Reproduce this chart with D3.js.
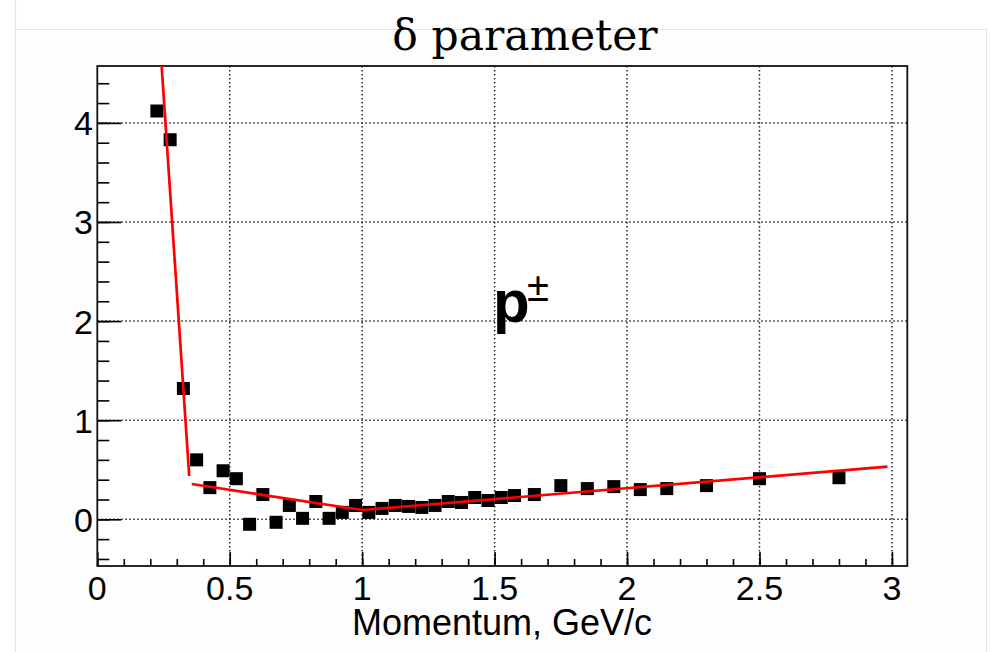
<!DOCTYPE html>
<html>
<head>
<meta charset="utf-8">
<script src="https://cdn.jsdelivr.net/npm/d3@7"></script>
<style>
  html, body { margin: 0; padding: 0; background: #ffffff; }
  svg { display: block; }
</style>
</head>
<body>
<svg id="chart" width="991" height="652"></svg>
<script>
// Proton delta parameter versus momentum
const momentum = [0.225, 0.275, 0.325, 0.375, 0.425, 0.475, 0.525, 0.575, 0.625, 0.675,
                  0.725, 0.775, 0.825, 0.875, 0.925, 0.975, 1.025, 1.075, 1.125, 1.175,
                  1.225, 1.275, 1.325, 1.375, 1.425, 1.475, 1.525, 1.575, 1.65, 1.75,
                  1.85, 1.95, 2.05, 2.15, 2.3, 2.5, 2.8];
const delta = [4.12, 3.83, 1.32, 0.60, 0.32, 0.49, 0.41, -0.05, 0.25, -0.03,
               0.14, 0.01, 0.18, 0.01, 0.07, 0.14, 0.07, 0.11, 0.14, 0.13,
               0.12, 0.14, 0.18, 0.17, 0.22, 0.19, 0.22, 0.24, 0.25, 0.34,
               0.31, 0.33, 0.30, 0.31, 0.34, 0.41, 0.42];

// Piecewise linear fits: low momentum, intermediate and high momentum
const fitLowX = [0.20, 0.347];
const fitLowY = [6.28, 0.437];
const fitMidX = [0.3565, 1.0];
const fitMidY = [0.356, 0.094];
const fitHighX = [1.0, 2.983];
const fitHighY = [0.094, 0.531];

const xTickLabels = ["0", "0.5", "1", "1.5", "2", "2.5", "3"];
const yTickLabels = ["0", "1", "2", "3", "4"];

const titleText = "δ parameter";
const xTitle = "Momentum, GeV/c";

const svg = d3.select("#chart");
const W = 991, H = 652;
const frame = { left: 97.3, top: 66, right: 907.3, bottom: 566 };

const x = d3.scaleLinear().domain([0, 3.058]).range([frame.left, frame.right]);
const y = d3.scaleLinear().domain([-0.471, 4.574]).range([frame.bottom, frame.top]);

// Canvas pad border
svg.append("rect")
  .attr("x", 15.5).attr("y", 29.5)
  .attr("width", 971).attr("height", H)
  .attr("fill", "#fdfdfd").attr("stroke", "none");
svg.append("line").attr("x1", 15.5).attr("x2", 15.5).attr("y1", 0).attr("y2", H)
  .attr("stroke", "#e2e2e2").attr("stroke-width", 1.2);
svg.append("line").attr("x1", 15.5).attr("x2", 986.5).attr("y1", 29.5).attr("y2", 29.5)
  .attr("stroke", "#e2e2e2").attr("stroke-width", 1.2);
svg.append("line").attr("x1", 986.5).attr("x2", 986.5).attr("y1", 29.5).attr("y2", H)
  .attr("stroke", "#e2e2e2").attr("stroke-width", 1.2);

// Plot area
svg.append("rect")
  .attr("x", frame.left).attr("y", frame.top)
  .attr("width", frame.right - frame.left).attr("height", frame.bottom - frame.top)
  .attr("fill", "#ffffff");

svg.append("defs").append("clipPath").attr("id", "plotClip")
  .append("rect")
  .attr("x", frame.left).attr("y", frame.top)
  .attr("width", frame.right - frame.left).attr("height", frame.bottom - frame.top);

// Dotted grid at major ticks
const xMajor = xTickLabels.map(Number);
const yMajor = yTickLabels.map(Number);
const grid = svg.append("g").attr("stroke", "#222").attr("stroke-width", 1.5)
  .attr("stroke-dasharray", "1.5,2.5");
grid.selectAll("line.gx").data(xMajor.filter(v => v > 0)).join("line")
  .attr("class", "gx")
  .attr("x1", d => x(d)).attr("x2", d => x(d))
  .attr("y1", frame.top).attr("y2", frame.bottom);
grid.selectAll("line.gy").data(yMajor).join("line")
  .attr("class", "gy")
  .attr("x1", frame.left).attr("x2", frame.right)
  .attr("y1", d => y(d)).attr("y2", d => y(d));

// Axes with inward ticks
const xMinorTicks = d3.range(0, 31).map(i => i / 10);
const yMinorTicks = d3.range(-2, 23).map(i => i / 5);

const xAxisMinor = d3.axisTop(x).tickValues(xMinorTicks).tickSize(7).tickFormat("");
const xAxisMajor = d3.axisTop(x).tickValues(xMajor).tickSize(14).tickFormat("");
const yAxisMinor = d3.axisRight(y).tickValues(yMinorTicks).tickSize(12).tickFormat("");
const yAxisMajor = d3.axisRight(y).tickValues(yMajor).tickSize(24).tickFormat("");

function styleAxis(g) {
  g.select(".domain").remove();
  g.selectAll(".tick line").attr("stroke", "#000").attr("stroke-width", 1.6);
}
svg.append("g").attr("transform", `translate(0,${frame.bottom})`).call(xAxisMinor).call(styleAxis);
svg.append("g").attr("transform", `translate(0,${frame.bottom})`).call(xAxisMajor).call(styleAxis);
svg.append("g").attr("transform", `translate(${frame.left},0)`).call(yAxisMinor).call(styleAxis);
svg.append("g").attr("transform", `translate(${frame.left},0)`).call(yAxisMajor).call(styleAxis);

// Frame
svg.append("rect")
  .attr("x", frame.left).attr("y", frame.top)
  .attr("width", frame.right - frame.left).attr("height", frame.bottom - frame.top)
  .attr("fill", "none").attr("stroke", "#111").attr("stroke-width", 1.8);

// Tick labels
const sans = "'Liberation Sans', Arial, Helvetica, sans-serif";
svg.append("g").selectAll("text").data(xTickLabels).join("text")
  .attr("x", d => x(+d)).attr("y", 600)
  .attr("text-anchor", "middle")
  .attr("font-family", sans).attr("font-size", 34).attr("fill", "#000")
  .text(d => d);
svg.append("g").selectAll("text").data(yTickLabels).join("text")
  .attr("x", 93).attr("y", d => y(+d) + 12.5)
  .attr("text-anchor", "end")
  .attr("font-family", sans).attr("font-size", 34).attr("fill", "#000")
  .text(d => d);

// Axis title
svg.append("text")
  .attr("x", 652).attr("y", 635)
  .attr("text-anchor", "end")
  .attr("font-family", sans).attr("font-size", 36).attr("fill", "#000")
  .text(xTitle);

// Plot title
svg.append("text")
  .attr("x", 525).attr("y", 50)
  .attr("text-anchor", "middle")
  .attr("font-family", "'DejaVu Serif', serif").attr("font-size", 42.5).attr("fill", "#000")
  .text(titleText);

// Particle label
svg.append("text")
  .attr("x", 493).attr("y", 322)
  .attr("font-family", sans).attr("font-weight", "bold").attr("font-size", 60).attr("fill", "#000")
  .text("p");
svg.append("text")
  .attr("x", 527).attr("y", 301)
  .attr("font-family", sans).attr("font-size", 40).attr("fill", "#000")
  .text("±");

// Data markers
const points = momentum.map((m, i) => ({ m, d: delta[i] }));
const size = 13;
svg.append("g").attr("clip-path", "url(#plotClip)")
  .selectAll("rect").data(points).join("rect")
  .attr("x", p => x(p.m) - size / 2).attr("y", p => y(p.d) - size / 2)
  .attr("width", size).attr("height", size)
  .attr("fill", "#000");

// Fit curves
const line = d3.line().x(p => x(p[0])).y(p => y(p[1]));
const fits = [
  d3.zip(fitLowX, fitLowY),
  d3.zip(fitMidX, fitMidY),
  d3.zip(fitHighX, fitHighY)
];
svg.append("g").attr("clip-path", "url(#plotClip)")
  .selectAll("path").data(fits).join("path")
  .attr("d", line)
  .attr("fill", "none").attr("stroke", "#ff0000").attr("stroke-width", 2.7);
</script>
</body>
</html>
